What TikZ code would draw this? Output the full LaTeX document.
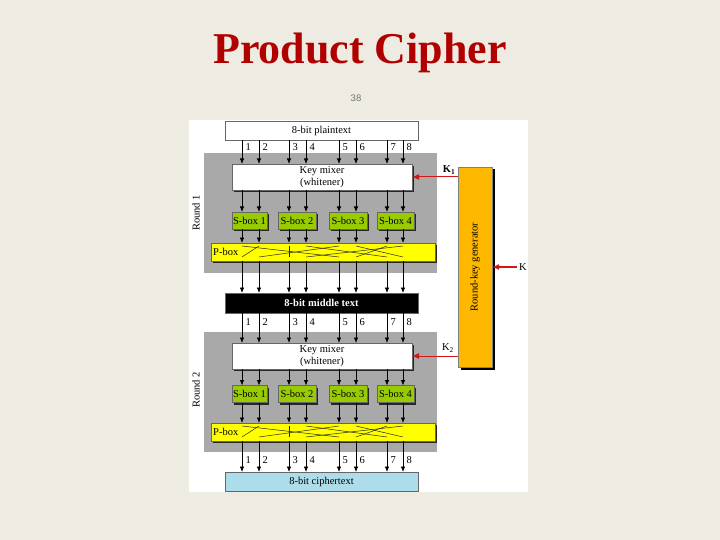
\documentclass[tikz,border=0pt]{standalone}
\usepackage{fontspec}
\setmainfont{Liberation Serif}
\newfontfamily\pagenumfont{Liberation Sans}
\usetikzlibrary{arrows.meta,shadows,calc}
\definecolor{bgc}{HTML}{EEEBE2}
\definecolor{panel}{HTML}{A9A9A9}
\definecolor{sgreen}{HTML}{99CC00}
\definecolor{pyel}{HTML}{FFFF00}
\definecolor{gorange}{HTML}{FFB800}
\definecolor{cblue}{HTML}{ADDCEA}
\definecolor{titlered}{HTML}{B00000}
\definecolor{karrow}{HTML}{D01818}
\newcommand{\dfont}{\fontsize{10.5}{11.5}\selectfont}
\tikzset{
  basebox/.style={draw=black!60, line width=0.4pt, inner sep=0pt, outer sep=0pt, font=\dfont},
  shad/.style={general shadow={fill=black!85, shadow xshift=2.2pt, shadow yshift=-2.2pt}},
  txtbox/.style={basebox, fill=white},
  kmbox/.style={basebox, fill=white, shad, minimum width=180pt, minimum height=26pt, align=center, font=\fontsize{10.5}{12.5}\selectfont},
  sbox/.style={basebox, fill=sgreen, shad, minimum height=17pt},
  pbox/.style={basebox, fill=pyel, shad, minimum width=224pt, minimum height=18pt},
  arr/.style={-{Latex[length=5.5pt,width=4.5pt]}, line width=0.75pt, black},
  karr/.style={-{Latex[length=7pt,width=6pt]}, line width=1.3pt, karrow},
  karrthin/.style={-{Latex[length=7pt,width=6pt]}, line width=1pt, karrow},
  num/.style={inner sep=0pt, font=\dfont},
  pline/.style={line width=0.5pt, black!85},
}
\begin{document}
\begin{tikzpicture}[x=1pt,y=-1pt]
\useasboundingbox (0,0) rectangle (720,540);
\fill[bgc] (0,0) rectangle (720,540);
\fill[white] (189,120) rectangle (528,492);
% title
\node[font=\fontsize{44}{46}\selectfont\bfseries, text=titlered] (title) at (360,53) {Product Cipher};
\node[font=\pagenumfont\fontsize{9.5}{10}\selectfont, text=black!55] (pnum) at (356,98) {38};
% panels
\fill[panel] (204,153) rectangle (437,273);
\fill[panel] (204,332) rectangle (437,452);
\node[rotate=90, font=\dfont] (r1) at (196,213) {Round 1};
\node[rotate=90, font=\dfont] (r2) at (196,390) {Round 2};
% text boxes
\node[txtbox, minimum width=193pt, minimum height=19pt] (pt) at (321.5,130.5) {8-bit plaintext};
\node[basebox, fill=black, text=white, font=\dfont\bfseries, minimum width=193pt, minimum height=20pt] (mt) at (321.5,303) {8-bit middle text};
\node[basebox, fill=cblue, minimum width=193pt, minimum height=19pt] (ct) at (321.5,481.5) {8-bit ciphertext};
% round 1
\node[kmbox] (km1) at (322,177) {Key mixer\\(whitener)};
\node[sbox, minimum width=35pt] (s11) at (249.5,220.5) {S-box 1};
\node[sbox, minimum width=38pt] (s12) at (297,220.5) {S-box 2};
\node[sbox, minimum width=38pt] (s13) at (348,220.5) {S-box 3};
\node[sbox, minimum width=37pt] (s14) at (395.5,220.5) {S-box 4};
\node[pbox] (p1) at (323,252) {};
\node[num, anchor=west] (p1l) at (p1.west) {\hspace{2pt}P-box};
% round 2
\node[kmbox] (km2) at (322,356) {Key mixer\\(whitener)};
\node[sbox, minimum width=35pt] (s21) at (249.5,394) {S-box 1};
\node[sbox, minimum width=38pt] (s22) at (297,394) {S-box 2};
\node[sbox, minimum width=38pt] (s23) at (348,394) {S-box 3};
\node[sbox, minimum width=37pt] (s24) at (395.5,394) {S-box 4};
\node[pbox] (p2) at (323,432) {};
\node[num, anchor=west] (p2l) at (p2.west) {\hspace{2pt}P-box};
% key generator
\node[basebox, draw=black!50, fill=gorange, general shadow={fill=black, shadow xshift=2.5pt, shadow yshift=-2.5pt}, minimum width=34pt, minimum height=200pt] (gen) at (475,267) {};
\node[rotate=90, font=\dfont] (genl) at (gen.center) {Round-key generator};
% vertical arrows
\foreach \x/\n in {242/1,259/2,289/3,306/4,339/5,356/6,387/7,403/8}{
  \draw[arr] (\x,0 |- pt.south) -- (\x,0 |- km1.north);
  \node[num, anchor=west] at (\x+3.5,147) {\n};
  \draw[arr] (\x,0 |- km1.south) -- (\x,0 |- s11.north);
  \draw[arr] (\x,0 |- s11.south) -- (\x,0 |- p1.north);
  \draw[arr] (\x,0 |- p1.south) -- (\x,0 |- mt.north);
  \draw[arr] (\x,0 |- mt.south) -- (\x,0 |- km2.north);
  \node[num, anchor=west] at (\x+3.5,322) {\n};
  \draw[arr] (\x,0 |- km2.south) -- (\x,0 |- s21.north);
  \draw[arr] (\x,0 |- s21.south) -- (\x,0 |- p2.north);
  \draw[arr] (\x,0 |- p2.south) -- (\x,0 |- ct.north);
  \node[num, anchor=west] at (\x+3.5,460) {\n};
}
% P-box wiring
\foreach \p in {p1,p2}{
  \foreach \a/\b in {259/242, 242/339, 289/289, 306/387, 339/259, 356/403, 387/356, 403/306}{
    \draw[pline] ($(\a,0 |- \p.north)+(0,3)$) -- ($(\b,0 |- \p.south)+(0,-4)$);
  }
}
% key arrows
\draw[karrthin] (gen.west |- km1.east) -- (km1.east);
\node[font=\dfont\bfseries] (k1) at (449,170) {K\textsubscript{1}};
\draw[karrthin] (gen.west |- km2.east) -- (km2.east);
\node[font=\dfont] (k2) at (448,348) {K\textsubscript{2}};
\coordinate (kin) at (517,267);
\draw[karr] (kin) -- (gen.east |- kin);
\node[num, anchor=west] (k) at (519,267) {K};
\end{tikzpicture}
\end{document}
